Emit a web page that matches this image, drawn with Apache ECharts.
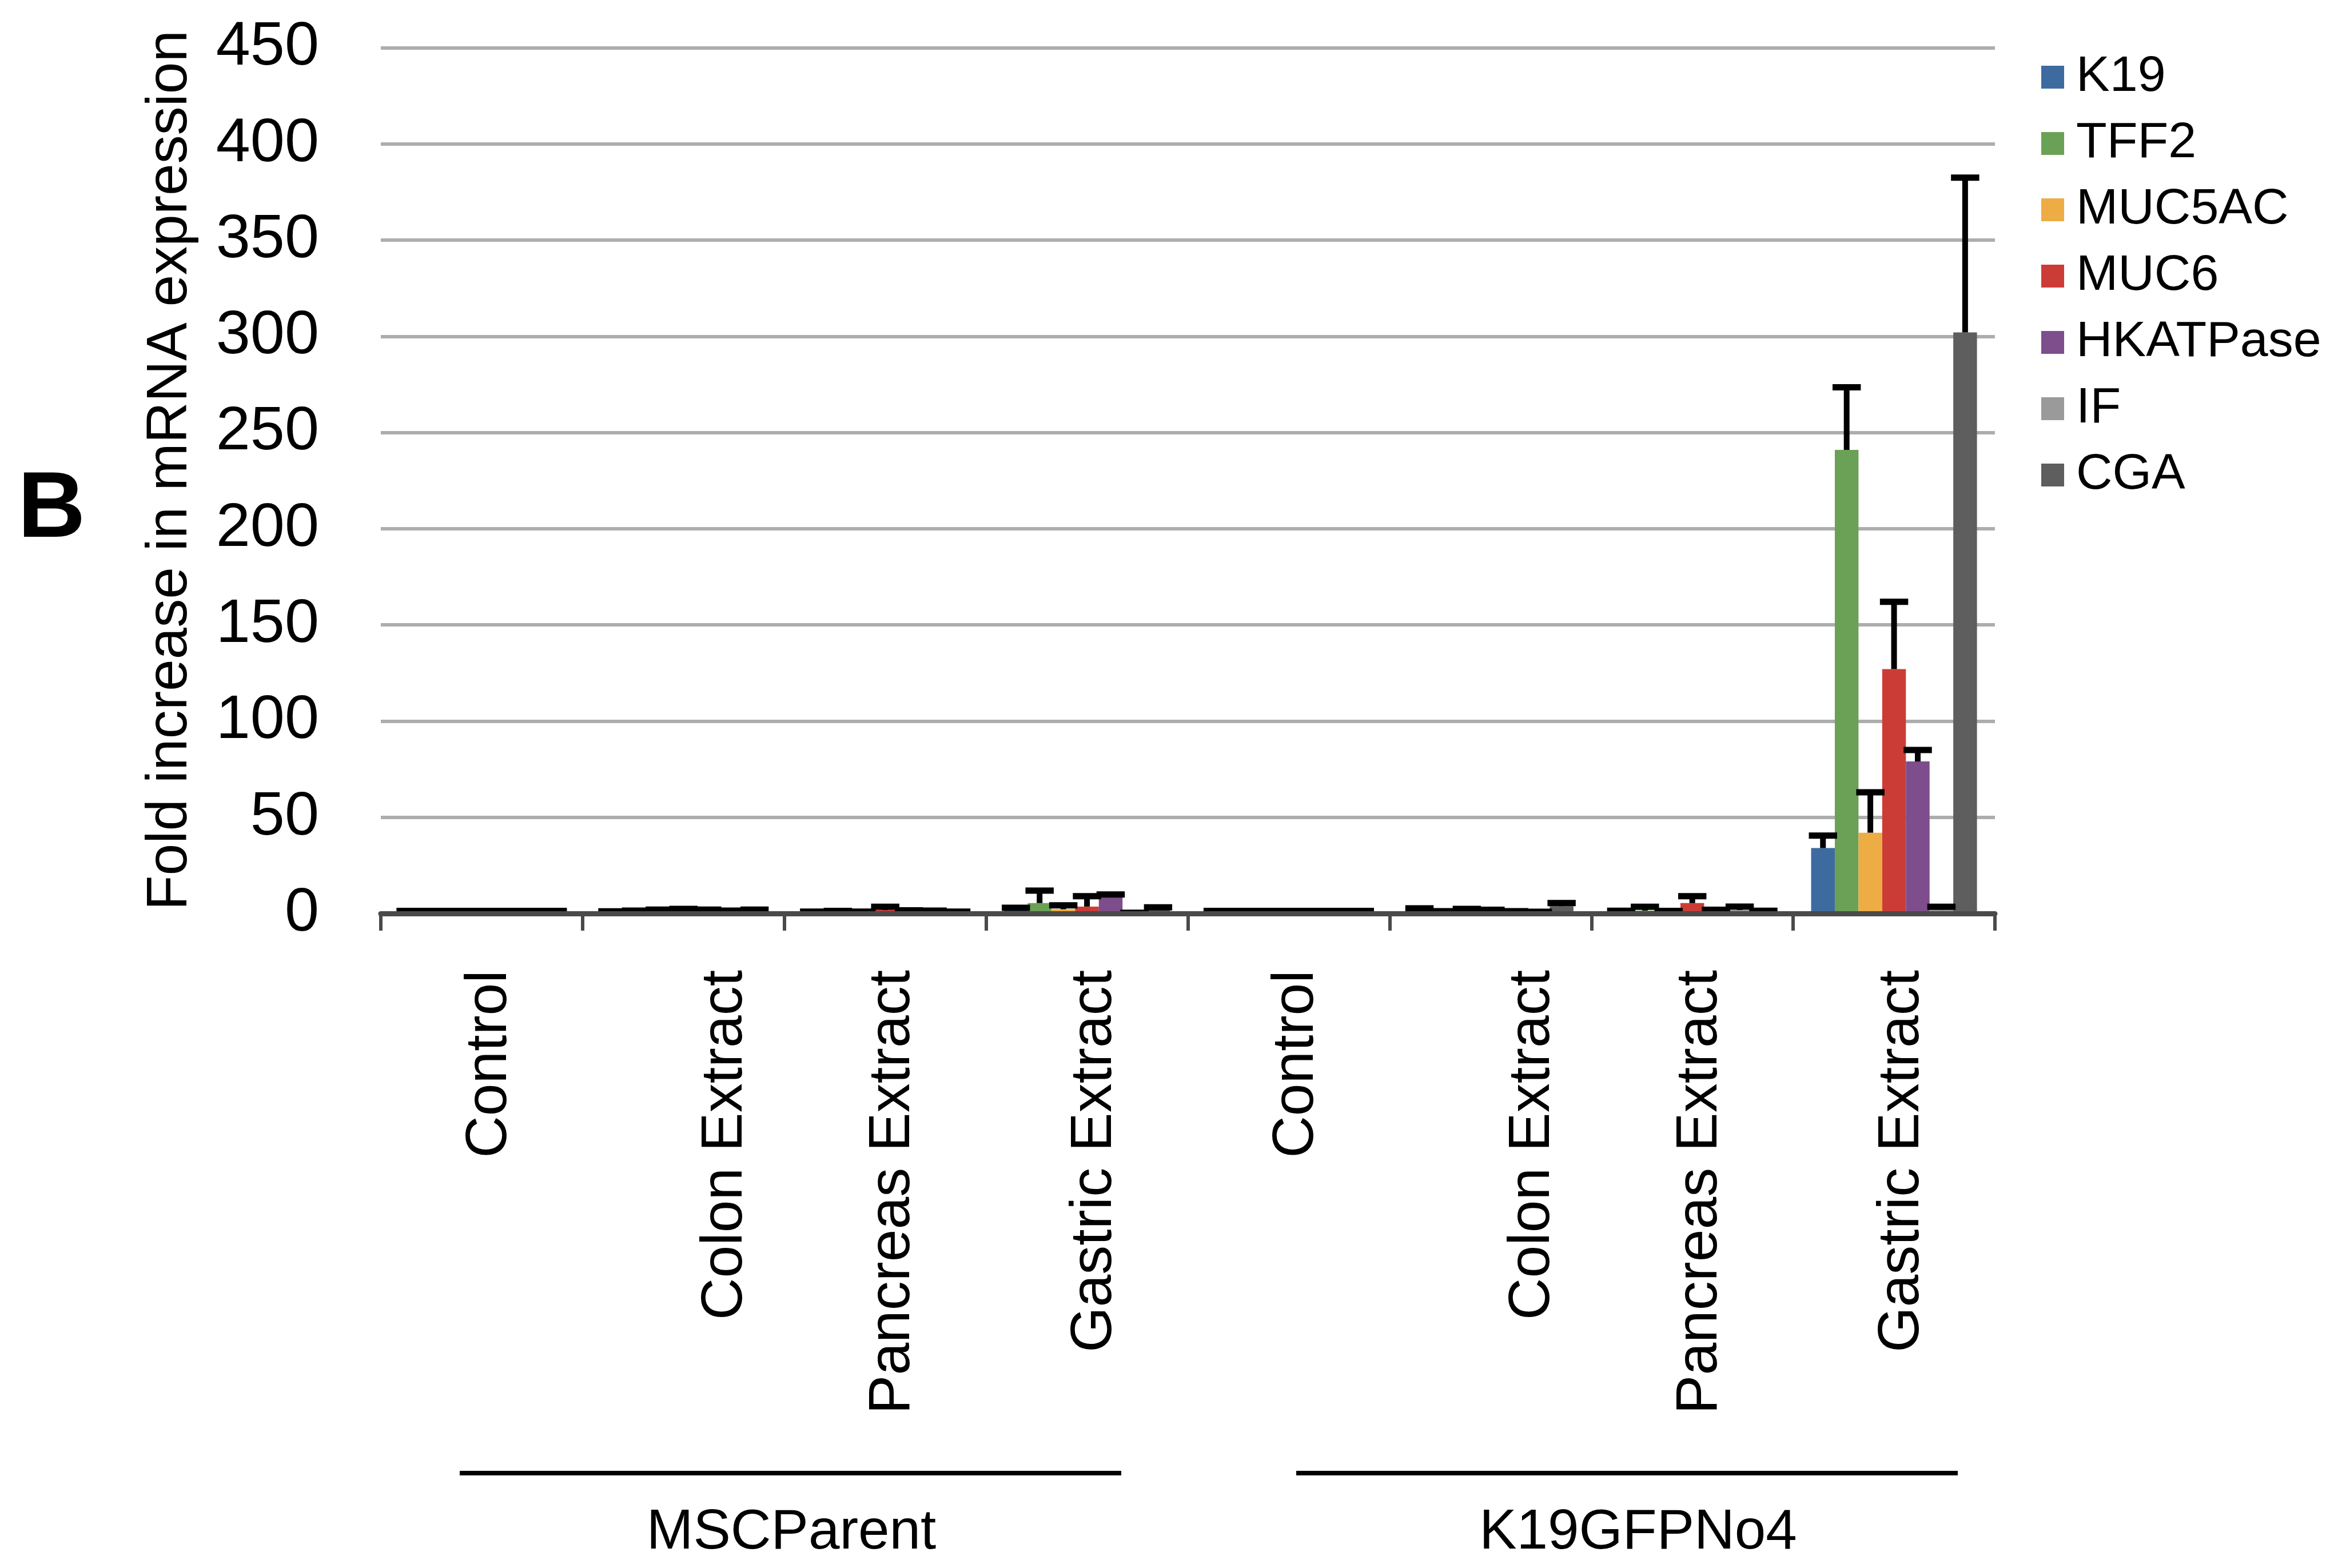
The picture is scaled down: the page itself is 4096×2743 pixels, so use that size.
<!DOCTYPE html>
<html>
<head>
<meta charset="utf-8">
<script src="https://cdn.jsdelivr.net/npm/echarts@6/dist/echarts.min.js"></script>
<style>
  html, body { margin: 0; padding: 0; background: #fff; }
  #chart { width: 4096px; height: 2743px; }
</style>
</head>
<body>
<div id="chart"></div>
<script>
// categories along the x axis (4 treatments x 2 cell lines)
const categories = [
  "Control", "Colon Extract", "Pancreas Extract", "Gastric Extract",
  "Control", "Colon Extract", "Pancreas Extract", "Gastric Extract"
];
const groups = ["MSCParent", "K19GFPNo4"];
const genes = ["K19", "TFF2", "MUC5AC", "MUC6", "HKATPase", "IF", "CGA"];
const colors = ["#3d6b9f", "#6ba157", "#eeac44", "#cc3c37", "#7e4d8b", "#9a9a9a", "#5e5e5e"];

// fold increase per gene (one value per category)
const k19 = [1, 0.8, 0.8, 1.5, 1, 1.5, 1.0, 34];
const tff2 = [1, 1.2, 1.0, 5.4, 1, 1.0, 1.5, 241];
const muc5ac = [1, 1.6, 0.8, 2.2, 1, 1.5, 1.0, 42];
const muc6 = [1, 2.0, 1.8, 3.6, 1, 1.3, 5.4, 127];
const hkatpase = [1, 1.6, 1.2, 8.6, 1, 1.0, 1.2, 79];
const ifac = [1, 1.2, 1.1, 0.3, 1, 0.8, 1.8, 2];
const cga = [1, 1.6, 0.8, 2.0, 1, 3.8, 1.0, 302];

// upper error (SD) per gene
const k19Err = [0.3, 0.3, 0.2, 1.5, 0.3, 1.2, 0.4, 6.5];
const tff2Err = [0.3, 0.3, 0.3, 6.5, 0.3, 0.2, 2.0, 32.5];
const muc5acErr = [0.3, 0.4, 0.2, 2.0, 0.3, 0.9, 0.3, 21];
const muc6Err = [0.3, 0.4, 1.7, 5.4, 0.3, 0.6, 3.6, 35];
const hkatpaseErr = [0.3, 0.4, 0.4, 1.3, 0.3, 0.2, 0.7, 6];
const ifacErr = [0.3, 0.3, 0.4, 0.1, 0.3, 0.1, 1.8, 1.5];
const cgaErr = [0.3, 0.4, 0.2, 1.2, 0.3, 1.6, 0.4, 80.5];

const yTicks = { min: 0, max: 450, interval: 50 };

const values = [k19, tff2, muc5ac, muc6, hkatpase, ifac, cga];
const errors = [k19Err, tff2Err, muc5acErr, muc6Err, hkatpaseErr, ifacErr, cgaErr];

const FONT = "Liberation Sans, Arial, Helvetica, sans-serif";
const CAT_GAP = 0.178;

const chart = echarts.init(document.getElementById("chart"));

// error bar data: [category index, gene index, top value, bar value]
const errData = [];
values.forEach((arr, g) => {
  arr.forEach((v, c) => {
    errData.push([c, g, v + errors[g][c], v]);
  });
});

function renderError(params, api) {
  const c = api.value(0);
  const g = api.value(1);
  const band = api.size([1, 0])[0];
  const barW = band * (1 - CAT_GAP) / genes.length;
  const off = -band * (1 - CAT_GAP) / 2 + (g + 0.5) * barW;
  const top = api.coord([c, api.value(2)]);
  const base = api.coord([c, api.value(3)]);
  const x = top[0] + off;
  const capW = barW + 8;
  return {
    type: "group",
    children: [
      { type: "line", shape: { x1: x, y1: base[1], x2: x, y2: top[1] },
        style: { stroke: "#000", lineWidth: 10 } },
      { type: "line", shape: { x1: x - capW / 2, y1: top[1], x2: x + capW / 2, y2: top[1] },
        style: { stroke: "#000", lineWidth: 11 } }
    ]
  };
}

const barSeries = genes.map((name, g) => ({
  name: name,
  type: "bar",
  data: values[g],
  barGap: "0%",
  barCategoryGap: (CAT_GAP * 100) + "%",
  itemStyle: { color: colors[g] },
  z: 2
}));

const option = {
  animation: false,
  backgroundColor: "#fff",
  textStyle: { fontFamily: FONT },
  grid: { left: 666, right: 607, top: 83.5, bottom: 1145 },
  legend: {
    data: genes,
    orient: "vertical",
    left: 3565,
    top: 86,
    icon: "rect",
    itemWidth: 40,
    itemHeight: 40,
    itemGap: 28,
    textStyle: { fontSize: 88, lineHeight: 88, color: "#000", fontFamily: FONT, padding: [0, 0, 0, 16] }
  },
  xAxis: {
    type: "category",
    data: categories,
    z: 10,
    axisLine: { lineStyle: { color: "#4a4a4a", width: 9 } },
    axisTick: { show: true, interval: 0, length: 30, lineStyle: { color: "#4a4a4a", width: 6 } },
    axisLabel: {
      interval: 0,
      rotate: 90,
      margin: 99,
      fontSize: 102,
      color: "#000",
      fontFamily: FONT,
      formatter: (v) => v === "Colon Extract" ? "{shift|" + v + "}" : "{n|" + v + "}",
      rich: {
        shift: { fontSize: 102, fontFamily: FONT, color: "#000", padding: [148, 0, 0, 0] },
        n: { fontSize: 102, fontFamily: FONT, color: "#000", padding: [28, 0, 0, 0] }
      }
    }
  },
  yAxis: {
    type: "value",
    min: yTicks.min,
    max: yTicks.max,
    interval: yTicks.interval,
    name: "Fold increase in mRNA expression",
    nameLocation: "middle",
    nameRotate: 90,
    nameGap: 318,
    nameTextStyle: { fontSize: 100, color: "#000", fontFamily: FONT, padding: [0, 0, 0, 36] },
    axisLine: { show: false },
    axisTick: { show: false },
    axisLabel: { fontSize: 108, color: "#000", margin: 108, fontFamily: FONT },
    splitLine: { lineStyle: { color: "#adadad", width: 6 } }
  },
  graphic: [
    { type: "text", x: 31, y: 894, style: { text: "B", font: "bold 164px " + FONT, fill: "#000", verticalAlign: "middle" } },
    { type: "line", shape: { x1: 804, y1: 2577, x2: 1961, y2: 2577 }, style: { stroke: "#000", lineWidth: 8 } },
    { type: "line", shape: { x1: 2267, y1: 2577, x2: 3424, y2: 2577 }, style: { stroke: "#000", lineWidth: 8 } },
    { type: "text", x: 1384, y: 2682, style: { text: groups[0], font: "98px " + FONT, fill: "#000", align: "center", verticalAlign: "middle" } },
    { type: "text", x: 2865, y: 2682, style: { text: groups[1], font: "98px " + FONT, fill: "#000", align: "center", verticalAlign: "middle" } }
  ],
  series: barSeries.concat([{
    type: "custom",
    name: "error",
    renderItem: renderError,
    data: errData,
    encode: { x: 0, y: 2 },
    z: 5
  }])
};

chart.setOption(option);
</script>
</body>
</html>
